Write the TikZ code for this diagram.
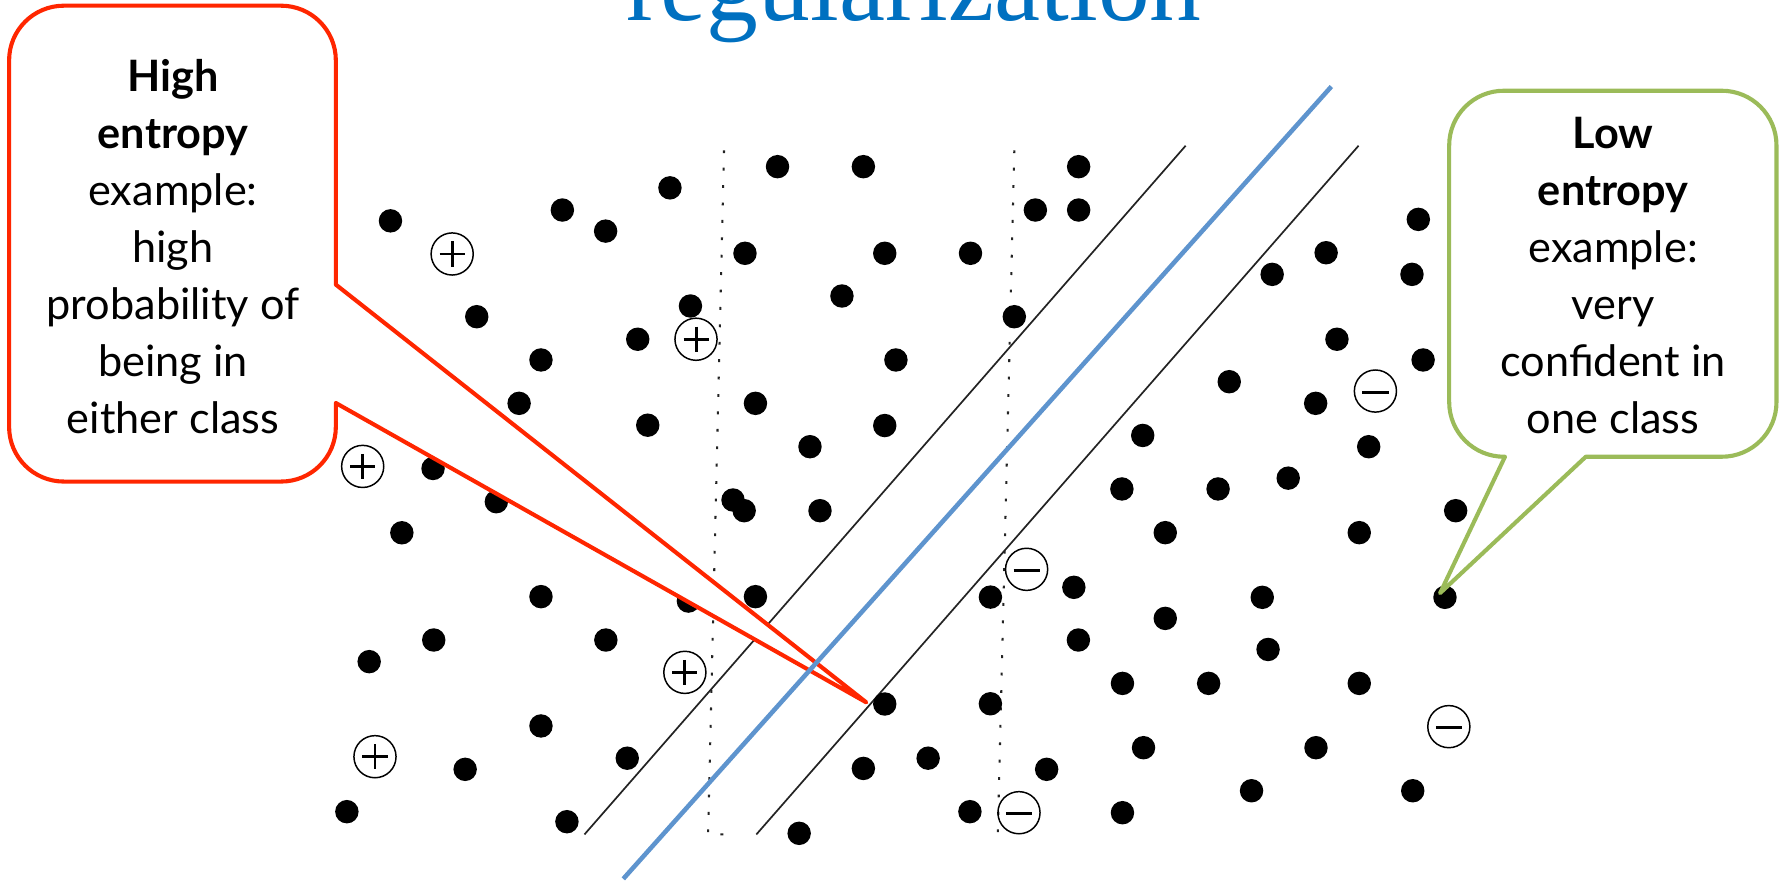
\documentclass[tikz,border=0pt]{standalone}
\usepackage{fontspec}
\setmainfont{Lato}
\newfontfamily\titlefont{Liberation Serif}
\definecolor{calred}{RGB}{255,38,0}
\definecolor{calgreen}{RGB}{155,187,89}
\definecolor{sepblue}{RGB}{94,148,206}
\definecolor{titleblue}{RGB}{0,112,192}
\definecolor{inkgray}{RGB}{35,35,35}
\tikzset{
  datadot/.style={fill=black},
  ringmark/.style={draw=black, line width=1.3},
  signmark/.style={draw=black, line width=2.6},
  marginline/.style={draw=inkgray, line width=1.5},
  dotline/.style={draw=inkgray, line width=1.8, dash pattern=on 2.5 off 12.8},
  sepline/.style={draw=sepblue, line width=4},
  calloutred/.style={draw=calred, fill=white, line width=3.6, line join=round},
  calloutgreen/.style={draw=calgreen, fill=white, line width=3.6, line join=round},
  callouttext/.style={align=center, anchor=base, inner sep=0, font=\fontsize{38}{50}\selectfont},
}
\begin{document}
\begin{tikzpicture}[x=1pt,y=-1pt]
\useasboundingbox (0,0) rectangle (1568,780);
\clip (0,0) rectangle (1568,780);

% title (cut by the top edge)
\node[anchor=base west, inner sep=0, text=titleblue,
      font=\titlefont\fontsize{91}{100}\selectfont] (title) at (550,18.2) {regularization};

% dotted vertical lines
\draw[dotline] (636,132) -- (622,733) -- (640,733);
\draw[dotline] (891,132) -- (876.5,733);

% margin lines
\draw[marginline] (513.4,733) -- (1041.5,128);
\draw[marginline] (664.4,733) -- (1193.4,128);

% data points
\foreach \x/\y in {
 343/194, 494/184.5, 532/203, 588.5/165, 683/146.4, 758.4/146.4, 947.5/146.4,
 909.5/184.5, 947.5/184.5, 654.4/222.5, 777.2/222.5, 852.5/222.5, 418.8/278.2,
 606.5/268.8, 739.6/260, 891/278.2, 560.2/298, 475.2/316.2, 787/316.2, 456/354.3,
 569/373.5, 663.6/354.3, 777.2/373.8, 711.5/392.4, 380.4/411.5, 436/440.7, 353/468,
 643.9/439.2, 653.7/448.6, 720.3/448.6, 475.2/524.1, 604.7/528, 663.6/524.1,
 870/524.5, 381/562.2, 324.3/581.2, 532.2/562.2, 777.2/618.4, 870/618.2,
 475.2/637.7, 408.6/675.8, 551/666, 758.4/675, 815.3/666, 304.7/713, 498/721.8,
 702/732, 852/713,
 1117.5/241, 1245.9/192.7, 1164.9/222, 1240.3/241, 1174.4/298, 1250.1/316.2,
 1079.8/335.3, 1155.7/354.3, 1202.3/392.4, 1003.8/382.5, 985.5/429.5, 1070/429.5,
 1131.6/420, 1278.7/448.6, 1023.6/467.9, 1194/467.9, 943.3/515.9, 1108.8/524.7,
 1269.3/524.7, 1023.6/543.2, 947.3/562.2, 1113.9/570.5, 986/600.3, 1061.7/600.3,
 1194/600.3, 1004.5/656.8, 1156/656.8, 919.4/675.8, 1099.4/694.6, 1241/694.6,
 986/713.9}
  \fill[datadot] (\x,\y) circle[radius=10.3];

% positive examples
\foreach \x/\y in {397.2/223.1, 611.4/298, 318.6/409.7, 601.6/590.6, 329.4/664.7}{
  \draw[ringmark] (\x,\y) circle[radius=18.5];
  \draw[signmark] (\x,\y) ++(-11,0) -- ++(22,0) (\x,\y) ++(0,-11) -- ++(0,22);
}
% negative examples
\foreach \x/\y in {1208.2/343.5, 901.8/500.1, 1272.7/638.3, 895.1/713.9}{
  \draw[ringmark] (\x,\y) circle[radius=18.5];
  \draw[signmark] (\x,\y) ++(-11.5,1) -- ++(23,0);
}

% red callout
\coordinate (redtip) at (761,617);
\draw[calloutred] (56,5) -- (247,5) .. controls (273.5,5) and (295,26.5) .. (295,53)
  -- (295,250) -- (redtip) -- (295,354) -- (295,375)
  .. controls (295,401.5) and (273.5,423) .. (247,423) -- (56,423)
  .. controls (29.5,423) and (8,401.5) .. (8,375) -- (8,53)
  .. controls (8,26.5) and (29.5,5) .. (56,5) -- cycle;
\node[callouttext] (hightext) at (152,380.7)
  {\textbf{High}\\\textbf{entropy}\\example:\\high\\probability of\\being in\\either class};

% separating hyperplane
\draw[sepline] (547.5,772) -- (1169.5,76);

% green callout
\coordinate (greentip) at (1265,521);
\draw[calloutgreen] (1321,79.7) -- (1512.5,79.7)
  .. controls (1539,79.7) and (1560.5,101.2) .. (1560.5,127.7) -- (1560.5,353.2)
  .. controls (1560.5,379.7) and (1539,401.2) .. (1512.5,401.2) -- (1393,401.2)
  -- (greentip) -- (1322,401.2) -- (1321,401.2)
  .. controls (1294.5,401.2) and (1273,379.7) .. (1273,353.2) -- (1273,127.7)
  .. controls (1273,101.2) and (1294.5,79.7) .. (1321,79.7) -- cycle;
\node[callouttext] (lowtext) at (1417,380.7)
  {\textbf{Low}\\\textbf{entropy}\\example:\\very\\confident in\\one class};
\end{tikzpicture}
\end{document}
